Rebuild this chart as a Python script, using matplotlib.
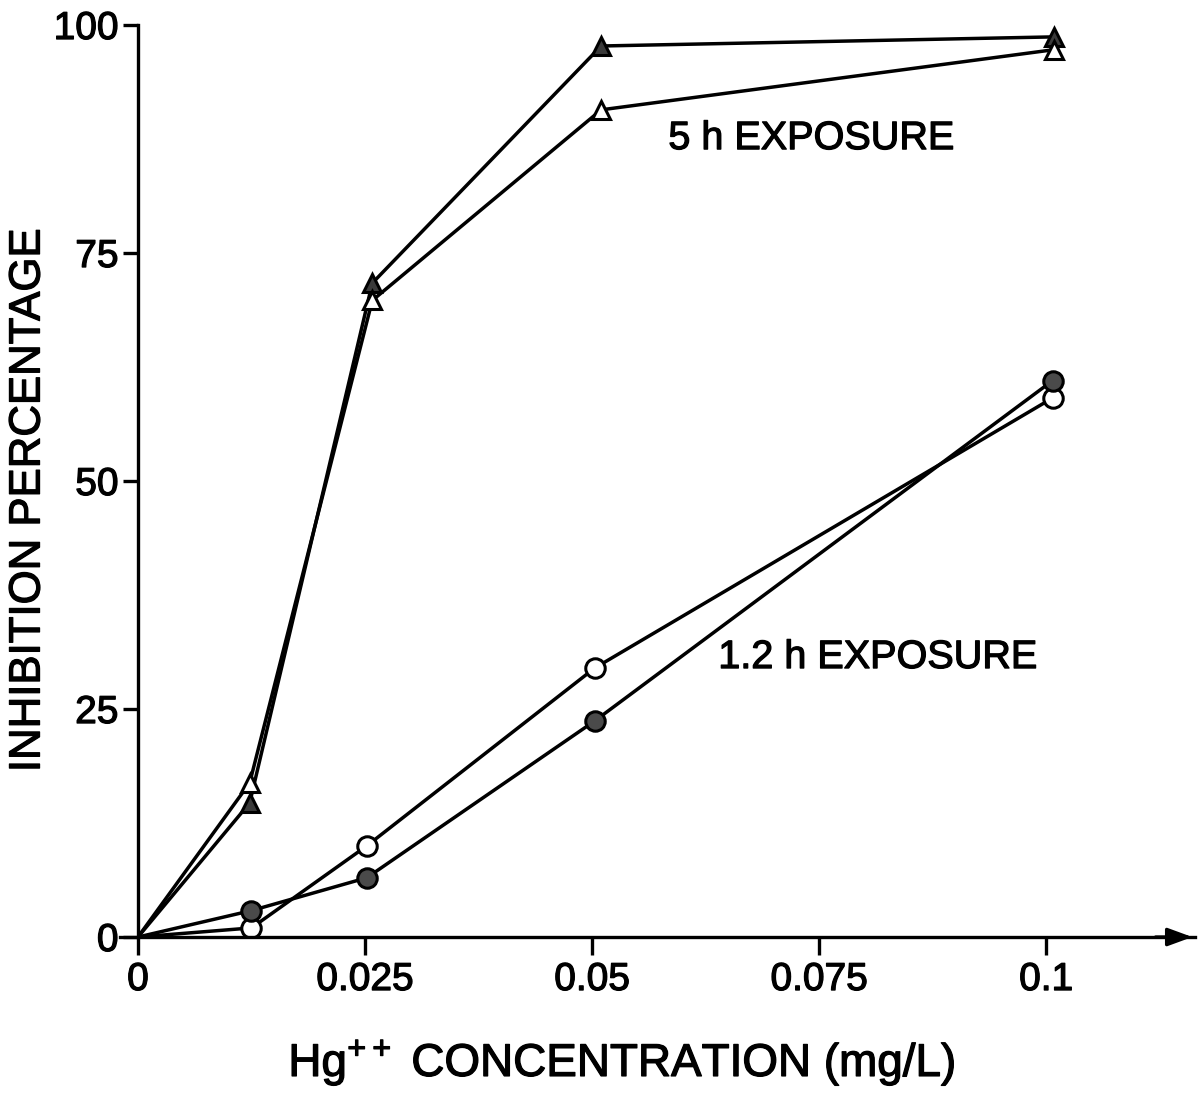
import matplotlib.pyplot as plt
import matplotlib.patheffects as pe

plt.rcParams['font.family'] = ['Liberation Sans', 'DejaVu Sans']

# 5 h exposure (triangles)
x_tri = [0, 0.0123, 0.0258, 0.051, 0.1009]
y_tri_filled = [0, 14.7, 71.7, 97.7, 98.7]
y_tri_open = [0, 16.9, 69.8, 90.7, 97.3]

# 1.2 h exposure (circles)
x_circ = [0, 0.0125, 0.0252, 0.0503, 0.1007]
y_circ_open = [0, 1.0, 10.0, 29.5, 59.1]
y_circ_filled = [0, 2.9, 6.5, 23.7, 61.0]

xticks = [0, 0.025, 0.05, 0.075, 0.1]
xlabels = ['0', '0.025', '0.05', '0.075', '0.1']
yticks = [0, 25, 50, 75, 100]

# 글자를 스캔본처럼 조금 두껍게
thick = [pe.withStroke(linewidth=0.9, foreground='black')]

fig = plt.figure(figsize=(12.04, 11.02), dpi=100)
ax = fig.add_axes([0.1146, 0.1497, 0.8780, 0.8276])

lw = 2.5
ms = 13
ax.plot(x_tri, y_tri_filled, color='black', lw=lw, marker='^', ms=ms,
        mfc='#3a3a3a', mec='black', mew=2.2, markevery=[1, 2, 3, 4])
ax.plot(x_tri, y_tri_open, color='black', lw=lw, marker='^', ms=ms,
        mfc='white', mec='black', mew=2.2, markevery=[1, 2, 3, 4])
ax.plot(x_circ, y_circ_open, color='black', lw=lw, marker='o', ms=ms + 1,
        mfc='white', mec='black', mew=2.2, markevery=[1, 2, 3, 4])
ax.plot(x_circ, y_circ_filled, color='black', lw=lw, marker='o', ms=ms + 1,
        mfc='#4a4a4a', mec='black', mew=2.2, markevery=[1, 2, 3, 4])

ax.set_xlim(0, 0.1164)
ax.set_ylim(0, 100)
ax.set_xticks(xticks)
ax.set_xticklabels(xlabels)
ax.set_yticks(yticks)

for s in ['top', 'right']:
    ax.spines[s].set_visible(False)
for s in ['left', 'bottom']:
    ax.spines[s].set_linewidth(2.4)
ax.spines['bottom'].set_bounds(-0.002, 0.1164)

ax.tick_params(axis='y', direction='out', length=11, width=2.4, labelsize=28, pad=3)
ax.tick_params(axis='x', direction='out', length=13, width=2.4, labelsize=28, pad=5)
for t in ax.get_xticklabels() + ax.get_yticklabels():
    t.set_path_effects(thick)

# x축 끝 화살표
ax.annotate('', xy=(1.0, 0), xycoords='axes fraction', xytext=(0.96, 0),
            textcoords='axes fraction',
            arrowprops=dict(arrowstyle='-|>,head_length=1.5,head_width=0.55',
                            color='black', lw=2.4), annotation_clip=False)

ax.set_ylabel('INHIBITION PERCENTAGE', fontsize=31.5, va='center', path_effects=thick)
ax.yaxis.set_label_coords(-0.104, 0.479)
ax.set_xlabel('Hg$^{\\mathregular{++}}$ CONCENTRATION (mg/L)', fontsize=33, va='center',
              path_effects=thick)
ax.xaxis.set_label_coords(0.458, -0.138)

ax.text(0.0584, 87.6, '5 h EXPOSURE', fontsize=28.5, va='center', ha='left',
        path_effects=thick)
ax.text(0.0639, 30.7, '1.2 h EXPOSURE', fontsize=28.5, va='center', ha='left',
        path_effects=thick)

fig.savefig('out.png', dpi=100)
